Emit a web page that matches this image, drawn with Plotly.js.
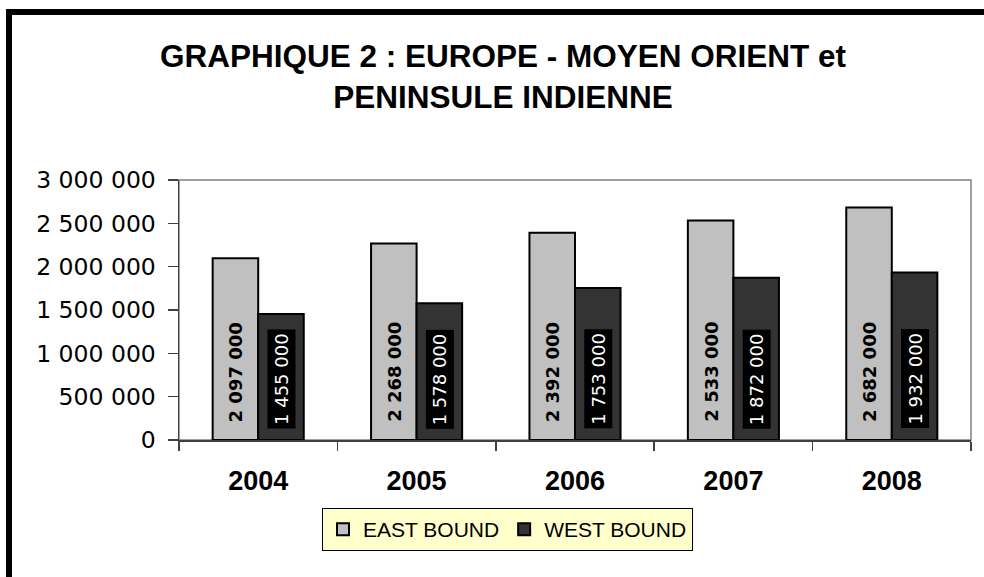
<!DOCTYPE html>
<html>
<head>
<meta charset="utf-8">
<script src="https://cdn.plot.ly/plotly-3.0.1.min.js"></script>
<style>
  html, body { margin: 0; padding: 0; background: #ffffff; overflow: hidden; }
  #chart { width: 984px; height: 577px; }
</style>
</head>
<body>
<div id="chart"></div>
<script>
// ---- data ----
var years = ['2004', '2005', '2006', '2007', '2008'];
var eastBound = [2097000, 2268000, 2392000, 2533000, 2682000];
var westBound = [1455000, 1578000, 1753000, 1872000, 1932000];
var seriesNames = ['EAST BOUND', 'WEST BOUND'];
var yTickValues = [0, 500000, 1000000, 1500000, 2000000, 2500000, 3000000];
var titleText = 'GRAPHIQUE 2 : EUROPE - MOYEN ORIENT et<br>PENINSULE INDIENNE';

function fmt(v) {
  return String(v).replace(/\B(?=(\d{3})+(?!\d))/g, ' ');
}

// ---- layout geometry (pixels) ----
var W = 984, H = 577;
var mL = 179, mR = 13, mT = 180, mB = 137;
var plotW = W - mL - mR, plotH = H - mT - mB;
function px2x(p) { return (p - mL) / plotW; }
function py2y(p) { return (H - mB - p) / plotH; }

var barStyleEast = { color: '#c0c0c0', line: { color: '#000000', width: 2 } };
var barStyleWest = { color: '#333333', line: { color: '#000000', width: 2 } };

var traces = [
  { type: 'bar', name: seriesNames[0], x: years, y: eastBound, marker: barStyleEast, hoverinfo: 'skip' },
  { type: 'bar', name: seriesNames[1], x: years, y: westBound, marker: barStyleWest, hoverinfo: 'skip' }
];

// bar value labels (rotated, anchored near the base of each bar)
var halfBar = plotW / years.length * (1 - 0.425) / 4;
var annotations = [];
years.forEach(function (yr, i) {
  annotations.push({
    x: i, y: 0, xref: 'x', yref: 'y',
    xshift: -halfBar, yshift: 16,
    xanchor: 'center', yanchor: 'bottom',
    text: '<b>' + fmt(eastBound[i]) + '</b>',
    textangle: -90, showarrow: false,
    font: { family: 'DejaVu Sans, sans-serif', size: 18, color: '#000000', weight: 'bold' },
    borderpad: 1
  });
  annotations.push({
    x: i, y: 0, xref: 'x', yref: 'y',
    xshift: halfBar, yshift: 11,
    xanchor: 'center', yanchor: 'bottom',
    text: fmt(westBound[i]),
    textangle: -90, showarrow: false,
    bgcolor: '#000000',
    font: { family: 'DejaVu Sans, sans-serif', size: 18, color: '#ffffff' },
    borderpad: 3
  });
});

var shapes = [
  // plot area border
  { type: 'rect', xref: 'paper', yref: 'paper', x0: 0, x1: 1, y0: 0, y1: 1,
    line: { color: '#808080', width: 1.5 }, fillcolor: 'rgba(0,0,0,0)', layer: 'below' },
  // outer chart frame (right and bottom edges fall outside the picture)
  { type: 'rect', xref: 'paper', yref: 'paper',
    x0: px2x(9), x1: px2x(1010), y0: py2y(610), y1: py2y(12),
    line: { color: '#000000', width: 6 }, fillcolor: 'rgba(0,0,0,0)' }
];

var layout = {
  width: W, height: H,
  margin: { l: mL, r: mR, t: mT, b: mB, pad: 0 },
  paper_bgcolor: '#ffffff', plot_bgcolor: '#ffffff',
  separators: ', ',
  showlegend: true,
  barmode: 'group', bargap: 0.425, bargroupgap: 0,
  title: {
    text: titleText,
    x: 503 / W, xref: 'container', xanchor: 'center',
    y: 1 - 67 / H, yref: 'container', yanchor: 'top',
    font: { family: 'Liberation Sans, Arial, sans-serif', size: 31.5, color: '#000000', weight: 'bold' }
  },
  xaxis: {
    type: 'category',
    range: [-0.5, years.length - 0.5],
    showgrid: false, zeroline: false,
    showline: true, linecolor: '#404040', linewidth: 1.5,
    ticks: 'outside', tickson: 'boundaries', ticklen: 9, tickcolor: '#404040', tickwidth: 1.5,
    ticklabelstandoff: 16,
    tickfont: { family: 'Liberation Sans, Arial, sans-serif', size: 27, color: '#000000', weight: 'bold' },
    fixedrange: true
  },
  yaxis: {
    range: [0, 3000000],
    tickvals: yTickValues,
    ticktext: yTickValues.map(fmt),
    showgrid: false, zeroline: false,
    showline: true, linecolor: '#404040', linewidth: 1.5,
    ticks: 'outside', ticklen: 10, tickcolor: '#404040', tickwidth: 1.5,
    ticklabelstandoff: 7,
    tickfont: { family: 'DejaVu Sans, sans-serif', size: 23.5, color: '#000000' },
    fixedrange: true
  },
  legend: {
    orientation: 'h',
    x: px2x(507.5), xanchor: 'center',
    y: py2y(508), yanchor: 'top',
    bgcolor: '#ffffcc', bordercolor: '#000000', borderwidth: 1,
    font: { family: 'Liberation Sans, Arial, sans-serif', size: 21, color: '#000000' },
    traceorder: 'normal', itemwidth: 30, itemclick: false, itemdoubleclick: false
  },
  annotations: annotations,
  shapes: shapes,
  hovermode: false
};

Plotly.newPlot('chart', traces, layout, { displayModeBar: false, staticPlot: true });
</script>
</body>
</html>
